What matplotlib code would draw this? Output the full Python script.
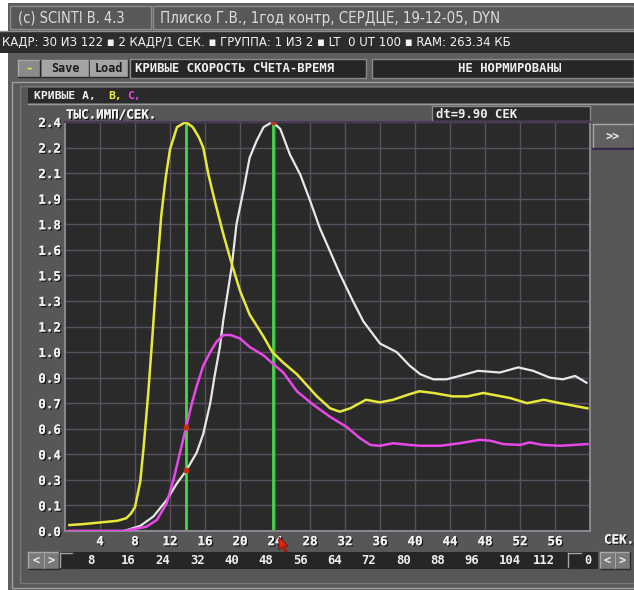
import numpy as np
import matplotlib
matplotlib.use('Agg')
import matplotlib.pyplot as plt
from matplotlib.patches import Rectangle, Polygon
from matplotlib.lines import Line2D
import matplotlib.patheffects as pe

# ---------------- data ----------------
# curve B (yellow)
t_b = [0.5, 2, 4, 6, 7.0, 7.5, 8.0, 8.6, 9.0, 9.5, 10.0, 10.5, 11.0, 11.5, 12.0, 12.8,
       13.8, 14.6, 15.3, 15.8, 16.4, 17.1, 18.1, 19.1, 20.0, 21.1, 22.7, 23.7, 24.9, 26.5,
       28.8, 30.3, 31.4, 32.6, 34.4, 36.0, 37.5, 39.2, 40.5, 42.1, 44.3, 46.0, 47.8, 50.9,
       52.8, 54.7, 56.6, 59.7]
v_b = [0.035, 0.04, 0.05, 0.06, 0.075, 0.10, 0.14, 0.29, 0.50, 0.80, 1.15, 1.52, 1.85, 2.07,
       2.24, 2.37, 2.40, 2.37, 2.31, 2.25, 2.09, 1.94, 1.74, 1.56, 1.41, 1.27, 1.14, 1.05,
       0.99, 0.92, 0.79, 0.72, 0.70, 0.72, 0.77, 0.755, 0.77, 0.80, 0.82, 0.81, 0.79, 0.79,
       0.81, 0.78, 0.75, 0.77, 0.75, 0.72]
# curve A (white)
t_a = [0.5, 6.7, 8.6, 10.1, 11.6, 12.8, 13.8, 15.05, 15.8, 16.6, 17.1, 17.7, 18.1, 19.05,
       19.6, 20.4, 21.1, 21.9, 22.7, 23.7, 24.6, 25.7, 26.9, 28.0, 29.1, 30.3, 31.4, 32.9,
       34.1, 36.0, 37.9, 39.4, 40.6, 42.1, 43.6, 45.1, 47.2, 49.7, 51.8, 53.5, 55.4, 56.9,
       58.3, 59.6]
v_a = [0.0, 0.0, 0.03, 0.085, 0.18, 0.28, 0.35, 0.46, 0.57, 0.75, 0.91, 1.08, 1.24, 1.55,
       1.80, 2.00, 2.19, 2.29, 2.37, 2.40, 2.36, 2.21, 2.09, 1.94, 1.78, 1.64, 1.51, 1.35,
       1.23, 1.10, 1.05, 0.97, 0.92, 0.89, 0.89, 0.91, 0.94, 0.93, 0.96, 0.94, 0.90, 0.89,
       0.91, 0.87]
# curve C (magenta)
t_c = [0.5, 6.7, 9.3, 10.5, 11.6, 12.4, 12.95, 13.8, 14.5, 15.05, 15.8, 16.6, 17.3, 18.1,
       18.9, 20.0, 21.1, 22.7, 23.8, 24.95, 26.5, 28.4, 30.3, 32.2, 33.7, 34.9, 36.0, 37.5,
       39.4, 40.6, 42.9, 45.1, 47.4, 48.6, 50.1, 52.0, 53.1, 54.6, 56.6, 59.7]
v_c = [0.0, 0.0, 0.025, 0.065, 0.16, 0.30, 0.42, 0.60, 0.75, 0.85, 0.97, 1.05, 1.11, 1.15,
       1.15, 1.13, 1.08, 1.03, 0.98, 0.93, 0.82, 0.74, 0.67, 0.61, 0.545, 0.505, 0.50, 0.515,
       0.505, 0.50, 0.50, 0.515, 0.535, 0.53, 0.51, 0.505, 0.52, 0.505, 0.50, 0.51]

cursor_t = [13.86, 23.76]
x_ticks = [4, 8, 12, 16, 20, 24, 28, 32, 36, 40, 44, 48, 52, 56]
y_ticks = [0.0, 0.15, 0.30, 0.45, 0.60, 0.75, 0.90, 1.05, 1.20, 1.35, 1.50, 1.65, 1.80,
           1.95, 2.10, 2.25, 2.40]
y_tick_labels = ['0.0', '0.1', '0.3', '0.4', '0.6', '0.7', '0.9', '1.0', '1.2', '1.3',
                 '1.5', '1.6', '1.8', '1.9', '2.1', '2.2', '2.4']
scroll_frames = [8, 16, 24, 32, 40, 48, 56, 64, 72, 80, 88, 96, 104, 112]

# ---------------- helpers ----------------
W, H = 634, 590
MONO = 'DejaVu Sans Mono'
NARROW = ['Liberation Sans Narrow', 'DejaVu Sans']
fig = plt.figure(figsize=(W / 100, H / 100), dpi=100, facecolor='white')


def R(x0, y0, x1, y1, fc, ec='none', lw=0, z=0):
    fig.add_artist(Rectangle((x0 / W, 1 - y1 / H), (x1 - x0) / W, (y1 - y0) / H,
                             transform=fig.transFigure, facecolor=fc, edgecolor=ec,
                             linewidth=lw, zorder=z))


def L(x0, y0, x1, y1, c, lw=1, z=1):
    fig.add_artist(Line2D([x0 / W, x1 / W], [1 - y0 / H, 1 - y1 / H],
                          transform=fig.transFigure, color=c, lw=lw, zorder=z))


def bevel(x0, y0, x1, y1, fc, light='#a8a8a8', dark='#2a2a2a'):
    R(x0, y0, x1, y1, fc)
    L(x0, y0, x1, y0, light)
    L(x0, y0, x0, y1, light)
    L(x0, y1, x1, y1, dark)
    L(x1, y0, x1, y1, dark)


def T(x, y, s, size=8.5, color='#f0f0f0', ha='left', family=MONO, weight='bold',
      shadow=False, **kw):
    t = fig.text(x / W, 1 - y / H, s, fontsize=size, color=color, ha=ha, va='center',
                 family=family, weight=weight, zorder=5, **kw)
    if shadow:
        t.set_path_effects([pe.withSimplePatchShadow(offset=(1, -1), shadow_rgbFace='black',
                                                     alpha=0.7), pe.Normal()])
    return t


# ---------------- window chrome ----------------
R(8, 3, 634, 590, '#5e5e5e')
# row 1
R(10, 6, 151, 29, '#585858', ec='#8c8c8c', lw=1)
R(153, 6, 634, 29, '#585858', ec='#8c8c8c', lw=1)
T(18, 18, '(c) SCINTI B. 4.3', size=10.5, color='#dcdcdc', family=NARROW, weight='normal',
  fontstretch='condensed')
T(160, 18, 'Плиско Г.В., 1год контр, СЕРДЦЕ, 19-12-05, DYN', size=10.8, color='#dcdcdc',
  family=NARROW, weight='normal', fontstretch='condensed')
# row 2
R(0, 31, 634, 53, '#2c2c2c')
L(0, 31, 634, 31, '#909090')
T(2, 42, 'КАДР: 30 ИЗ 122 ▪ 2 КАДР/1 СЕК. ▪ ГРУППА: 1 ИЗ 2 ▪ LT  0 UT 100 ▪ RAM: 263.34 КБ',
  size=9.4, color='#f4f4f4', family=NARROW, weight='normal', fontstretch='condensed')
# row 3
bevel(18, 60, 40, 77, '#8a8a8a')
T(29, 68, '-', size=9, color='#f0f040', ha='center')
bevel(42, 60, 89, 77, '#a4a4a4')
T(65, 68, 'Save', size=8.5, color='#1c1c1c', ha='center')
bevel(90, 60, 128, 77, '#a4a4a4')
T(109, 68, 'Load', size=8.5, color='#1c1c1c', ha='center')
R(130, 59, 366, 78, '#262626', ec='#8a8a8a', lw=1)
T(135, 68, 'КРИВЫЕ СКОРОСТЬ СЧЕТА-ВРЕМЯ', size=8.8, color='#f0f0f0')
R(372, 59, 634, 78, '#262626', ec='#8a8a8a', lw=1)
T(510, 68, 'НЕ НОРМИРОВАНЫ', size=8.8, color='#f0f0f0', ha='center')
# panel
R(12, 82, 634, 588, '#5a5a5a', ec='#a0a0a0', lw=1)
R(20, 86, 634, 583, '#575757', ec='#787878', lw=1)
R(28, 88, 634, 103, '#2a2a2a')
L(28, 104, 634, 104, '#9a9a9a')
T(34, 96, 'КРИВЫЕ A,', size=8.2)
T(108, 96, 'B,', size=8.2, color='#f0f040')
T(127, 96, 'C,', size=8.2, color='#f040f0')
# dt box
R(432, 106, 590, 121, '#2a2a2a', ec='#8a8a8a', lw=1)
T(436, 114, 'dt=9.90 СЕК', size=8.8)
# >> button
bevel(593, 124, 634, 148, '#606060')
L(593, 149, 634, 149, '#3a2a4a', lw=1.5)
T(613, 136, '>>', size=8.5, ha='center')
T(66, 115, 'ТЫС.ИМП/СЕК.', size=9, shadow=True)
T(604, 540, 'СЕК.', size=9, shadow=True)

# ---------------- plot ----------------
ax = fig.add_axes([65 / W, 1 - 531 / H, 525 / W, 409 / H])
ax.set_facecolor('#2a2a2a')
ax.set_xlim(0, 60)
ax.set_ylim(0, 2.4)
ax.set_xticks(x_ticks)
ax.set_xticklabels([str(v) for v in x_ticks])
ax.set_yticks(y_ticks)
ax.set_yticklabels(y_tick_labels)
ax.tick_params(length=0, colors='#f0f0f0', labelsize=9, pad=3)
for lbl in ax.get_xticklabels() + ax.get_yticklabels():
    lbl.set_family(MONO)
    lbl.set_weight('bold')
    lbl.set_path_effects([pe.withSimplePatchShadow(offset=(1, -1), shadow_rgbFace='black',
                                                   alpha=0.7), pe.Normal()])
ax.grid(True, color='#58505e', lw=1.0)
ax.set_axisbelow(True)
for side in ['left', 'bottom', 'right', 'top']:
    ax.spines[side].set_color('#8a8490')
    ax.spines[side].set_linewidth(1.5)
ax.spines['top'].set_color('#4a3a5a')

for ct in cursor_t:
    ax.axvline(ct, color='#44d844', lw=2, zorder=2)

ax.plot(t_a, v_a, color='#e8e8e8', lw=1.6, zorder=3)
ax.plot(t_c, v_c, color='#e848e8', lw=1.8, zorder=4)
ax.plot(t_b, v_b, color='#e8e83a', lw=1.8, zorder=5)

# red marks where the cursors cross the curves
ax.plot([cursor_t[0]], [np.interp(cursor_t[0], t_a, v_a)], 's', ms=2.5, color='#c03010', zorder=6)
ax.plot([cursor_t[0]], [np.interp(cursor_t[0], t_c, v_c)], 's', ms=2.5, color='#c03010', zorder=6)
ax.plot([cursor_t[1]], [np.interp(cursor_t[1], t_a, v_a)], 's', ms=2.5, color='#c03010', zorder=6)

# ---------------- scrollbar ----------------
bevel(28, 552, 44, 569, '#7a7a7a')
T(36, 560, '<', size=8.5, ha='center')
bevel(44, 552, 59, 569, '#7a7a7a')
T(51.5, 560, '>', size=8.5, ha='center')
bevel(600, 552, 615, 569, '#7a7a7a')
T(607.5, 560, '<', size=8.5, ha='center')
bevel(615, 552, 630, 569, '#7a7a7a')
T(622.5, 560, '>', size=8.5, ha='center')

sb = fig.add_axes([59 / W, 1 - 569 / H, 539 / W, 17 / H])
sb.set_facecolor('#262626')
sb.set_xlim(1.47, 127.1)
sb.set_ylim(0, 1)
sb.set_xticks([])
sb.set_yticks([])
for s in sb.spines.values():
    s.set_visible(False)
for f in scroll_frames:
    sb.text(f, 0.5, str(f), ha='left', va='center', color='#f0f0f0', fontsize=8.8,
            family=MONO, weight='bold')
bevel(60, 553, 73, 568, '#686868')
bevel(568, 553, 582, 568, '#686868')
T(584, 560, '0', size=8.5)

# mouse cursor
fig.add_artist(Polygon([(279 / W, 1 - 537 / H), (279 / W, 1 - 550 / H), (282 / W, 1 - 547 / H),
                        (285 / W, 1 - 552 / H), (287 / W, 1 - 551 / H), (284 / W, 1 - 546 / H),
                        (288 / W, 1 - 546 / H)], closed=True, transform=fig.transFigure,
                       facecolor='#e82010', edgecolor='#801000', lw=0.6, zorder=10))

fig.savefig('out.png', dpi=100, facecolor=fig.get_facecolor())
